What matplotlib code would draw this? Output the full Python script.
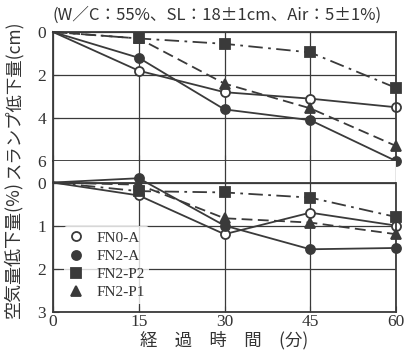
import matplotlib
matplotlib.use("Agg")
import matplotlib.pyplot as plt
from matplotlib.lines import Line2D

plt.rcParams['font.family'] = ['Liberation Serif', 'Noto Sans CJK JP', 'DejaVu Sans']

time = [0, 15, 30, 45, 60]
series = ["FN0-A", "FN2-A", "FN2-P2", "FN2-P1"]
slump_drop = {
    "FN0-A": [0, 1.8, 2.8, 3.1, 3.5],
    "FN2-A": [0, 1.2, 3.6, 4.1, 6.0],
    "FN2-P2": [0, 0.3, 0.55, 0.95, 2.6],
    "FN2-P1": [0, 0.3, 2.4, 3.55, 5.3],
}
air_drop = {
    "FN0-A": [0, 0.3, 1.2, 0.7, 1.0],
    "FN2-A": [0, -0.1, 1.0, 1.55, 1.52],
    "FN2-P2": [0, 0.2, 0.23, 0.35, 0.8],
    "FN2-P1": [0, 0.05, 0.83, 0.93, 1.2],
}
x_ticks = [0, 15, 30, 45, 60]
slump_ticks = [0, 2, 4, 6]
air_ticks = [0, 1, 2, 3]

col = "#3a3a3a"
styles = {
    "FN0-A": dict(marker="o", mfc="white", ls="-"),
    "FN2-A": dict(marker="o", mfc=col, ls="-"),
    "FN2-P2": dict(marker="s", mfc=col, ls=(0, (8, 3, 1.5, 3))),
    "FN2-P1": dict(marker="^", mfc=col, ls=(0, (6, 3))),
}

W, H = 411, 351
fig = plt.figure(figsize=(W / 100, H / 100), dpi=100)
L, R = 53, 396
ax1 = fig.add_axes([L / W, 1 - 161 / H, (R - L) / W, (161 - 32) / H])
ax2 = fig.add_axes([L / W, 1 - 311.7 / H, (R - L) / W, (311.7 - 161) / H])

for ax in (ax1, ax2):
    ax.set_xlim(0, 60)
    ax.set_xticks(x_ticks)
    for s in ax.spines.values():
        s.set_color(col)
        s.set_linewidth(1.3)
    ax.tick_params(direction="in", length=4, color=col, labelsize=12.5, labelcolor="#333333", pad=5)
    ax.grid(True, color=col, lw=0.9)
    ax.set_axisbelow(True)

ax1.set_ylim(6, 0)
ax1.set_yticks(slump_ticks)
ax1.tick_params(labelbottom=False)

ax2.set_ylim(3, -0.5)
ax2.set_yticks(air_ticks)
ax2.spines["top"].set_visible(False)
ax2.spines["right"].set_bounds(0, 3)
ax2.axhline(0, color=col, lw=1.3)
ax2.tick_params(axis="x", pad=2)

for name in series:
    st = styles[name]
    for ax, data in ((ax1, slump_drop), (ax2, air_drop)):
        ax.plot(time, data[name], color=col, lw=1.3, ls=st["ls"], marker=st["marker"],
                mfc=st["mfc"], mec=col, mew=1.3, ms=6.5, markevery=[1, 2, 3, 4], clip_on=False)

handles = [Line2D([], [], ls="none", marker=styles[n]["marker"], mfc=styles[n]["mfc"],
                  mec=col, mew=1.3, ms=6.5) for n in series]
leg = ax2.legend(handles, series, loc="lower left", bbox_to_anchor=(0.01, 0.0), frameon=True,
                 fontsize=11, handlelength=1.0, handletextpad=0.8, labelspacing=0.3,
                 borderpad=0.3)
leg.get_frame().set_edgecolor("none")
leg.get_frame().set_facecolor("white")
for t in leg.get_texts():
    t.set_color("#333333")

ax2.set_xlabel("経　過　時　間　(分)", fontsize=12.5, color="#333333", labelpad=0,
               family=['Noto Sans CJK JP', 'DejaVu Sans'])
fig.text(13 / W, 1 - 100 / H, "スランプ低下量(cm)", rotation=90, ha="center", va="center",
         fontsize=12.5, color="#333333", family=['Noto Sans CJK JP', 'DejaVu Sans'])
fig.text(13 / W, 1 - 250 / H, "空気量低下量(%)", rotation=90, ha="center", va="center",
         fontsize=13, color="#333333", family=['Noto Sans CJK JP', 'DejaVu Sans'])
fig.text(217 / W, 1 - 15 / H, "(W／C：55%、SL：18±1cm、Air：5±1%)", ha="center", va="center",
         fontsize=12, color="#333333", family=['Noto Sans CJK JP', 'DejaVu Sans'])

fig.savefig("out.png", dpi=100)
